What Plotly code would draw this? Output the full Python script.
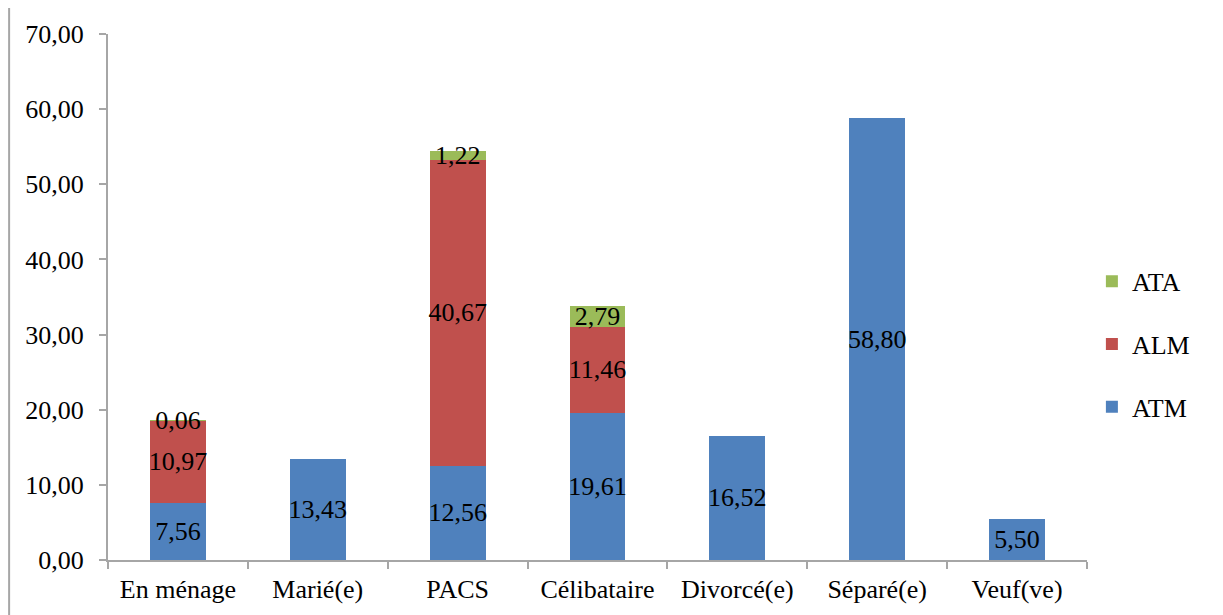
import plotly.graph_objects as go

categories = ["En ménage", "Marié(e)", "PACS", "Célibataire", "Divorcé(e)", "Séparé(e)", "Veuf(ve)"]
atm = [7.56, 13.43, 12.56, 19.61, 16.52, 58.80, 5.50]
alm = [10.97, None, 40.67, 11.46, None, None, None]
ata = [0.06, None, 1.22, 2.79, None, None, None]

series = [("ATM", atm, "#4F81BD", 3), ("ALM", alm, "#C0504D", 2), ("ATA", ata, "#9BBB59", 1)]
font = "Liberation Serif"

fig = go.Figure()
for name, vals, color, rank in series:
    fig.add_trace(go.Bar(
        x=categories, y=vals, name=name, legendgroup=name, legendrank=rank,
        marker=dict(color=color, line=dict(width=0)),
        texttemplate="%{y:.2f}", textposition="inside", insidetextanchor="middle",
        constraintext="none", textangle=0, cliponaxis=False,
        textfont=dict(family=font, size=26, color="black"),
    ))

# page body adds an 8px offset, margins compensate for it
fig.update_layout(
    barmode="stack", bargap=0.6, separators=", ",
    width=1223, height=615, plot_bgcolor="white", paper_bgcolor="white",
    margin=dict(l=100, r=144, t=19, b=63),
    font=dict(family=font, size=26, color="black"),
    legend=dict(x=1.005, y=0.41, yanchor="middle", traceorder="grouped",
                tracegroupgap=26, font=dict(family=font, size=26)),
    showlegend=True,
)
fig.update_xaxes(showline=True, linecolor="#A6A6A6", linewidth=2, ticks="outside",
                 tickson="boundaries", ticklen=7, tickcolor="#A6A6A6", tickwidth=2,
                 ticklabelstandoff=5, tickfont=dict(family=font, size=26))
fig.update_yaxes(range=[0, 70], dtick=10, tickformat=".2f", showgrid=False, zeroline=False,
                 showline=True, linecolor="#A6A6A6", linewidth=2, ticks="outside",
                 ticklen=7, tickcolor="#A6A6A6", tickwidth=2, ticklabelstandoff=10,
                 tickfont=dict(family=font, size=26))
fig.add_shape(type="line", xref="paper", yref="paper", x0=-0.101, x1=-0.101, y0=-0.2, y1=1.1,
              line=dict(color="#A6A6A6", width=2))

fig.write_html("out.html")
